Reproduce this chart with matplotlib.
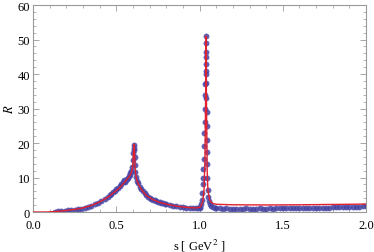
import matplotlib.pyplot as plt
from matplotlib.ticker import MultipleLocator

# model curve (red line)
s_fit = [0.0, 0.08, 0.12, 0.16, 0.20, 0.25, 0.30, 0.35, 0.40, 0.45, 0.50, 0.53,
         0.56, 0.58, 0.59, 0.595, 0.60, 0.604, 0.607, 0.61, 0.613, 0.618, 0.625,
         0.633, 0.65, 0.68, 0.72, 0.76, 0.80, 0.85, 0.90, 0.95, 0.98, 1.00, 1.01,
         1.02, 1.027, 1.032, 1.036, 1.039, 1.042, 1.046, 1.05, 1.06, 1.07, 1.08,
         1.10, 1.20, 1.40, 1.60, 1.80, 2.00]
R_fit = [0.0, 0.0, 0.1, 0.25, 0.45, 0.75, 1.2, 1.9, 2.9, 4.3, 6.2, 7.5,
         9.2, 10.4, 11.3, 12.2, 14.2, 17.8, 19.7, 17.2, 13.0, 10.4, 9.1,
         8.1, 6.6, 4.8, 3.6, 2.8, 2.3, 1.8, 1.45, 1.25, 1.2, 1.35, 1.8,
         3.2, 6.5, 14.0, 30.0, 51.0, 30.0, 12.0, 6.5, 3.6, 2.8, 2.5,
         2.25, 2.1, 2.05, 2.1, 2.2, 2.3]

# measured points (blue)
s_data = [0.13, 0.15, 0.17, 0.19, 0.21, 0.23, 0.25, 0.27, 0.29, 0.31, 0.33, 0.35,
          0.37, 0.39, 0.41, 0.43, 0.45, 0.46, 0.47, 0.48, 0.49, 0.50, 0.51, 0.52,
          0.53, 0.54, 0.545, 0.55, 0.555, 0.56, 0.565, 0.57, 0.575, 0.58, 0.585,
          0.59, 0.595, 0.60, 0.603, 0.605, 0.607, 0.608, 0.61, 0.612, 0.615, 0.62,
          0.625, 0.63, 0.64, 0.65, 0.66, 0.67, 0.68, 0.69, 0.70, 0.71, 0.72, 0.73,
          0.74, 0.75, 0.76, 0.77, 0.78, 0.79, 0.80, 0.82, 0.84, 0.86, 0.88, 0.90,
          0.92, 0.94, 0.96, 0.98, 0.99, 1.00, 1.005, 1.01, 1.013, 1.016, 1.018,
          1.02, 1.022, 1.024, 1.026, 1.028, 1.03, 1.032, 1.034, 1.035, 1.036,
          1.037, 1.038, 1.039, 1.039, 1.040, 1.040, 1.041, 1.041, 1.042, 1.042,
          1.043, 1.044, 1.045, 1.047, 1.05, 1.053, 1.057, 1.06, 1.07, 1.08, 1.09,
          1.10, 1.12, 1.14, 1.16, 1.18, 1.20, 1.22, 1.24, 1.26, 1.28, 1.30, 1.32,
          1.34, 1.36, 1.38, 1.40, 1.42, 1.44, 1.46, 1.48, 1.50, 1.52, 1.54, 1.56,
          1.58, 1.60, 1.62, 1.64, 1.66, 1.68, 1.70, 1.72, 1.74, 1.76, 1.78, 1.80,
          1.82, 1.84, 1.86, 1.88, 1.90, 1.92, 1.94, 1.96, 1.98, 2.00]
R_data = [0.15, 0.2, 0.3, 0.35, 0.45, 0.55, 0.7, 0.85, 1.0, 1.2, 1.5, 1.8,
          2.2, 2.7, 3.2, 3.8, 4.5, 4.9, 5.3, 5.8, 6.2, 6.6, 7.1, 7.6,
          8.1, 8.6, 9.4, 9.0, 8.7, 9.3, 9.7, 10.0, 10.4, 10.8, 11.3,
          12.0, 13.0, 15.0, 17.0, 18.5, 19.4, 18.0, 16.0, 13.5, 11.5, 10.1,
          9.0, 8.3, 7.4, 6.7, 6.0, 5.4, 4.9, 4.5, 4.2, 3.9, 3.6, 3.4,
          3.2, 3.0, 2.8, 2.6, 2.5, 2.4, 2.2, 2.0, 1.8, 1.7, 1.5, 1.4,
          1.3, 1.2, 1.1, 1.1, 1.1, 1.3, 1.6, 2.2, 3.5, 5.5, 8.0,
          10.0, 12.5, 15.5, 19.0, 23.0, 26.0, 30.0, 34.0, 37.0, 40.0,
          43.0, 46.5, 51.0, 49.0, 45.0, 41.0, 37.5, 33.0, 29.0, 25.0,
          21.0, 17.5, 14.0, 10.0, 6.5, 4.5, 3.2, 2.4, 1.7, 1.4, 1.25,
          1.15, 1.1, 1.0, 1.05, 0.95, 1.0, 1.0, 0.95, 1.0, 1.05, 1.0, 0.95,
          1.0, 1.05, 1.0, 1.0, 1.05, 1.0, 1.05, 1.1, 1.05, 1.1, 1.1, 1.05,
          1.1, 1.15, 1.1, 1.15, 1.2, 1.15, 1.2, 1.25, 1.2, 1.3, 1.3, 1.35,
          1.4, 1.35, 1.45, 1.5, 1.5, 1.55, 1.6, 1.6, 1.65, 1.7]

plt.rcParams["font.family"] = ["Liberation Serif", "DejaVu Serif"]
plt.rcParams["mathtext.fontset"] = "stix"

fig = plt.figure(figsize=(3.74, 2.53), dpi=100)
ax = fig.add_axes([0.088, 0.158, 0.891, 0.818])

ax.plot(s_data, R_data, "o", color="#40409e", ms=3.8, mec="#5a5ab8",
        mew=0.4, alpha=0.85, zorder=2)
ax.plot(s_fit, R_fit, color="#e2202e", lw=1.0, zorder=3)

ax.set_xlim(0, 2)
ax.set_ylim(0, 60)
ax.xaxis.set_major_locator(MultipleLocator(0.5))
ax.xaxis.set_minor_locator(MultipleLocator(0.1))
ax.yaxis.set_major_locator(MultipleLocator(10))
ax.yaxis.set_minor_locator(MultipleLocator(2))
ax.xaxis.set_major_formatter(lambda v, p: f"{v:.1f}")

for sp in ax.spines.values():
    sp.set_color("#999999")
    sp.set_linewidth(0.8)
ax.tick_params(which="both", direction="in", top=True, right=True,
               color="#999999", labelsize=9)
ax.tick_params(axis="x", pad=5)
ax.tick_params(axis="y", pad=2)
ax.tick_params(which="major", length=4, width=0.6)
ax.tick_params(which="minor", length=2, width=0.5)

ax.set_xlabel("s [ GeV$^2$ ]", fontsize=9, labelpad=4)
ax.set_ylabel("$R$", fontsize=9, labelpad=1)

fig.savefig("out.png", dpi=100)
